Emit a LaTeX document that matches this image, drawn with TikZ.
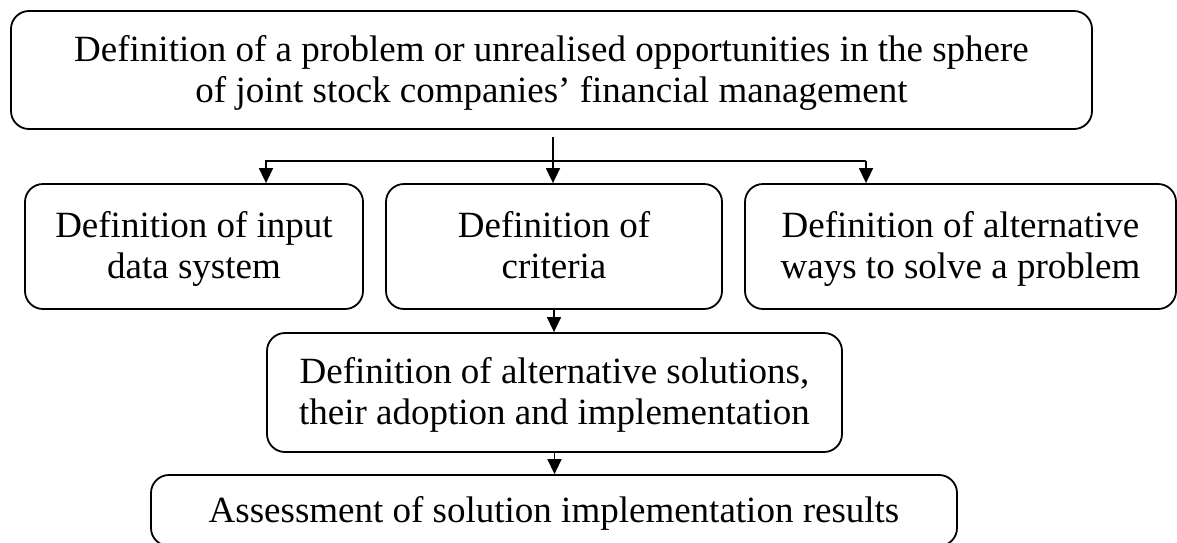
\documentclass[tikz,border=0pt]{standalone}
\usepackage{fontspec}
\setmainfont{Liberation Serif}
\usetikzlibrary{arrows.meta}
\newcommand\boxtop{\rule{0pt}{32pt}}
\newcommand\boxbot{\rule[-8.6pt]{0pt}{8.6pt}}
\begin{document}
\begin{tikzpicture}[x=1pt,y=-1pt,
  box/.style={draw, line width=1.8pt, rounded corners=18pt, align=center, inner sep=0pt,
              font=\fontsize{37}{41}\selectfont},
  arr/.style={line width=1.5pt, -{Triangle[length=15pt,width=14pt]}}]
\useasboundingbox (0,0) rectangle (1177,542);
\clip (0,0) rectangle (1177,542);
\node[box, minimum width=1081pt, minimum height=118pt] (top) at (551.5,70)
  {\boxtop Definition of a problem or unrealised opportunities in the sphere\\of joint stock companies’ financial management\boxbot};
\node[box, minimum width=338pt, minimum height=125pt] (left) at (194,246.5)
  {\boxtop Definition of input\\data system\boxbot};
\node[box, minimum width=336pt, minimum height=125pt] (mid) at (554,246.5)
  {\boxtop Definition of\\criteria\boxbot};
\node[box, minimum width=431pt, minimum height=125pt] (right) at (960.5,246.5)
  {\boxtop Definition of alternative\\ways to solve a problem\boxbot};
\node[box, minimum width=575pt, minimum height=119pt] (sol) at (554.5,392.5)
  {\boxtop Definition of alternative solutions,\\their adoption and implementation\boxbot};
\node[box, minimum width=806pt, minimum height=71pt] (assess) at (554,510.5)
  {\boxtop Assessment of solution implementation results\boxbot};
\coordinate (s) at (553,137);
\coordinate (hl) at (266,161);
\coordinate (hr) at (866,161);
\draw[arr] (s) -- (s |- mid.north);
\draw[arr] (hr) -- (hl) -- (hl |- left.north);
\draw[arr] (hr) -- (hr |- right.north);
\draw[arr] (mid.south) -- (mid.south |- sol.north);
\draw[arr] (sol.south) -- (sol.south |- assess.north);
\end{tikzpicture}
\end{document}
